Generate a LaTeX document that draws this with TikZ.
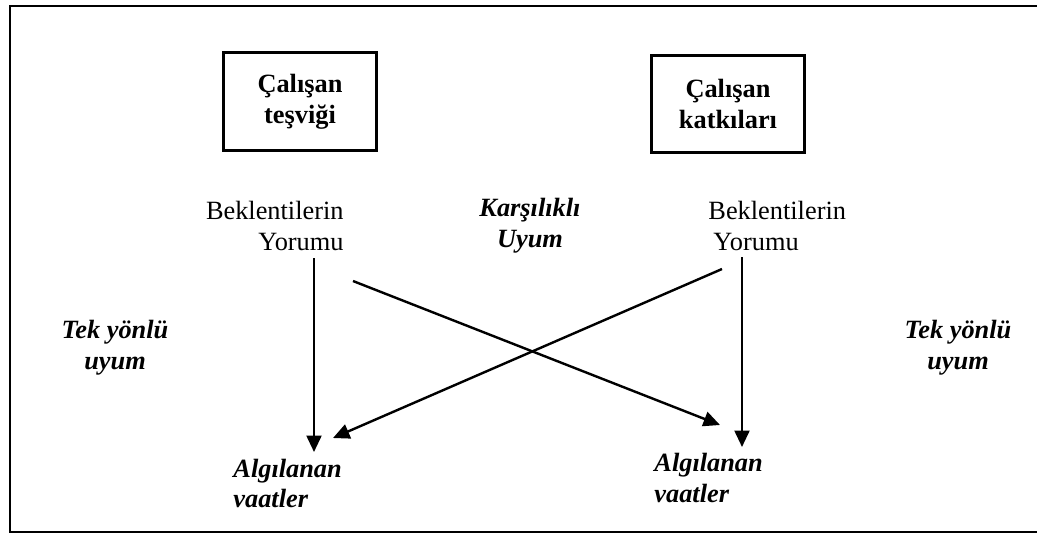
\documentclass[tikz,border=0pt]{standalone}
\usepackage{fontspec}
\setmainfont{Liberation Serif}
\usetikzlibrary{arrows.meta}

\begin{document}
\begin{tikzpicture}[x=0.016cm,y=-0.016cm,
    every node/.style={inner sep=0pt,font=\fontsize{12}{14}\selectfont},
    party/.style={draw,line width=1.2pt,minimum width=2.45cm,minimum height=1.56cm,
      align=center,font=\fontsize{12}{14}\selectfont\bfseries},
    fitlabel/.style={align=center,font=\fontsize{12}{14}\selectfont\bfseries\itshape},
    link/.style={-{Triangle[length=7.5pt,width=6.8pt]},line width=1.1pt}]
  \useasboundingbox (0,0) rectangle (1037,535);
  % frame, open on the right
  \draw[line width=1.1pt] (1037,6) -- (10,6) -- (10,532) -- (1037,532);
  % the two parties
  \node[party] (tesvik) at (300,101.5) {Çalışan\\teşviği};
  \node[party] (katki) at (728,104) {Çalışan\\katkıları};
  % expectations
  \node[anchor=east,align=right] (yorumL) at (344,226) {Beklentilerin\\Yorumu};
  \node[anchor=west,align=left] (yorumR) at (708,226) {Beklentilerin\\\hspace*{2.3pt}Yorumu};
  \node[fitlabel] (karsilikli) at (530,226) {Karşılıklı\\Uyum};
  % one-way fit on both sides
  \node[fitlabel] (tekL) at (115,348) {Tek yönlü\\uyum};
  \node[fitlabel] (tekR) at (958,348) {Tek yönlü\\uyum};
  % perceived promises
  \node[fitlabel,anchor=west,align=left] (vaatL) at (233,483.5) {Algılanan\\vaatler};
  \node[fitlabel,anchor=west,align=left] (vaatR) at (654,478) {Algılanan\\vaatler};
  % arrow ends
  \coordinate (downL) at (314,258);
  \coordinate (downLe) at (314,452);
  \coordinate (crossA) at (353,281);
  \coordinate (crossAe) at (720,425);
  \coordinate (crossB) at (722,269);
  \coordinate (crossBe) at (333,438);
  \coordinate (downR) at (742,257);
  \coordinate (downRe) at (742,447);
  \draw[link] (downL) -- (downLe);
  \draw[link] (crossA) -- (crossAe);
  \draw[link] (crossB) -- (crossBe);
  \draw[link] (downR) -- (downRe);
\end{tikzpicture}
\end{document}
